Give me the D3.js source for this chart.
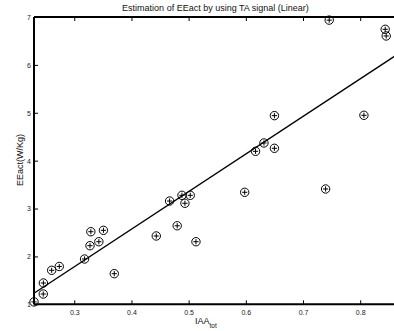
<!DOCTYPE html>
<html><head><meta charset="utf-8">
<script src="https://cdn.jsdelivr.net/npm/d3@7"></script>
<style>body{margin:0;background:#fff}svg{display:block}text{font-family:"Liberation Sans",Arial,sans-serif}</style>
</head><body><svg id="c" width="394" height="331"></svg>
<script>
const xVals=[0.2296,0.2458,0.246,0.2605,0.2738,0.318,0.370,0.329,0.3275,0.343,0.351,0.4434,0.4667,0.480,0.4883,0.4935,0.5028,0.5128,0.598,0.617,0.6317,0.650,0.650,0.7395,0.8065,0.7458,0.8437,0.8455];
const yVals=[1.05,1.215,1.445,1.71,1.79,1.946,1.64,2.516,2.224,2.307,2.545,2.427,3.157,2.64,3.276,3.11,3.276,2.307,3.339,4.195,4.369,4.94,4.258,3.408,4.947,6.935,6.743,6.604];
const fitX=[0.2296,0.86];
const fitY=[1.23,6.18];
const xTicks=[0.3,0.4,0.5,0.6,0.7,0.8];
const yTicks=[1,2,3,4,5,6,7];
const titleText="Estimation of EEact by using TA signal (Linear)";

const svg=d3.select("#c");
const L=34,T=17,B=304.3,R=394;
const x=d3.scaleLinear().domain([0.2296,0.8591]).range([L,R]);
const y=d3.scaleLinear().domain([1,7]).range([B,T]);

// fit line
svg.append("path").datum(fitX.map((v,i)=>[v,fitY[i]]))
 .attr("d",d3.line().x(d=>x(d[0])).y(d=>y(d[1])))
 .attr("fill","none").attr("stroke","#000").attr("stroke-width",1.4);

// markers
const g=svg.append("g");
xVals.forEach((v,i)=>{
  const cx=x(v),cy=y(yVals[i]);
  g.append("circle").attr("cx",cx).attr("cy",cy).attr("r",4.2).attr("fill","none").attr("stroke","#000").attr("stroke-width",1);
  g.append("path").attr("d",`M${cx-2.6},${cy}H${cx+2.6}M${cx},${cy-2.6}V${cy+2.6}`).attr("stroke","#000").attr("stroke-width",1);
});

// axes
const xa=svg.append("g").attr("transform",`translate(0,${B})`)
 .call(d3.axisBottom(x).tickValues(xTicks).tickSize(-4).tickPadding(6).tickFormat(d3.format(".1f")));
const xt=svg.append("g").attr("transform",`translate(0,${T})`)
 .call(d3.axisTop(x).tickValues(xTicks).tickSize(-4).tickFormat(""));
const ya=svg.append("g").attr("transform",`translate(${L},0)`)
 .call(d3.axisLeft(y).tickValues(yTicks).tickSize(-4).tickPadding(3).tickFormat(d3.format("d")));
[xa,xt,ya].forEach(a=>{
  a.select(".domain").remove();
  a.selectAll(".tick line").attr("stroke","#000").attr("stroke-width",1);
  a.selectAll(".tick text").attr("fill","#222").style("font-size","7px");
});
ya.selectAll(".tick text").attr("dy","0.35em");
// frame
svg.append("path").attr("d",`M${L},${T}H${R}M${L},${T}V${B}M${L},${B}H${R}`)
 .attr("stroke","#000").attr("stroke-width",2).attr("fill","none");

// title
svg.append("text").attr("x",215.5).attr("y",10.5).attr("text-anchor","middle")
 .style("font-size","9px").attr("fill","#111").text(titleText);
// y label
svg.append("text").attr("transform","translate(23,160) rotate(-90)").attr("text-anchor","middle")
 .style("font-size","9px").attr("fill","#111").text("EEact(W/Kg)");
// x label
const xl=svg.append("text").attr("x",195).attr("y",324).style("font-size","9px").attr("fill","#111");
xl.append("tspan").text("IAA");
xl.append("tspan").attr("dy",4).style("font-size","6.5px").text("tot");
</script></body></html>
